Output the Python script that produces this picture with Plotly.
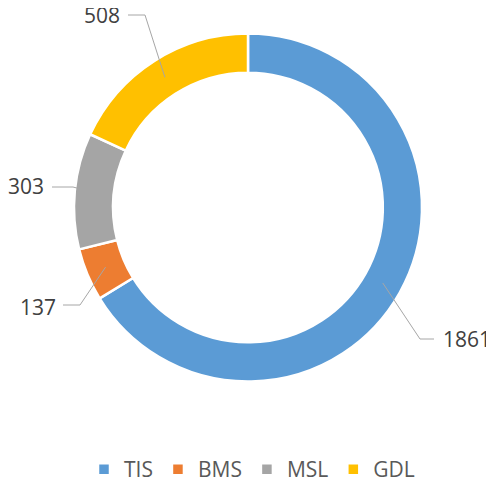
import math
import plotly.graph_objects as go

categories = ["TIS", "BMS", "MSL", "GDL"]
values = [1861, 137, 303, 508]
colors = ["#5B9BD5", "#ED7D31", "#A5A5A5", "#FFC000"]

# page has an 8px body margin; figure sized so it fits the 494x478 window
OFF = 8
W, H = 494 - OFF, 478 - OFF
CX, CY, R_OUT = 248, 207.5, 174
HOLE = 0.775
R_MID = R_OUT * (1 + HOLE) / 2

# label placement in page pixels: elbow point, line end, text anchor x, side, text y
label_layout = {
    "TIS": dict(elbow=(420, 339), end=(434, 339), tx=441, side="left", ty=339),
    "BMS": dict(elbow=(80, 305), end=(63, 305), tx=58, side="right", ty=307),
    "MSL": dict(elbow=(73, 187), end=(52, 187), tx=46, side="right", ty=186),
    "GDL": dict(elbow=(145, 15), end=(128, 15), tx=122, side="right", ty=15),
}

def px(x):
    return (x - OFF) / W

def py(y):
    return 1 - (y - OFF) / H

fig = go.Figure(go.Pie(
    labels=categories,
    values=values,
    sort=False,
    direction="clockwise",
    rotation=0,
    hole=HOLE,
    marker=dict(colors=colors, line=dict(color="white", width=2.5)),
    textinfo="none",
    hoverinfo="label+value",
    domain=dict(x=[px(CX - R_OUT), px(CX + R_OUT)], y=[py(CY + R_OUT), py(CY - R_OUT)]),
))

total = sum(values)
cum = 0
shapes, annotations = [], []
for cat, v in zip(categories, values):
    mid = (cum + v / 2) / total * 2 * math.pi
    cum += v
    sx = CX + R_MID * math.sin(mid)
    sy = CY - R_MID * math.cos(mid)
    L = label_layout[cat]
    ex, ey = L["elbow"]
    fx, fy = L["end"]
    path = f"M {px(sx)},{py(sy)} L {px(ex)},{py(ey)} L {px(fx)},{py(fy)}"
    shapes.append(dict(type="path", path=path, xref="paper", yref="paper",
                       line=dict(color="#A6A6A6", width=1), layer="above"))
    annotations.append(dict(x=px(L["tx"]), y=py(L["ty"]), xref="paper", yref="paper",
                            text=str(v), showarrow=False,
                            xanchor=L["side"], yanchor="middle",
                            font=dict(size=21, color="#404040", family="Open Sans")))

fig.update_layout(
    width=W, height=H,
    margin=dict(l=0, r=0, t=0, b=0, autoexpand=False),
    paper_bgcolor="white",
    plot_bgcolor="white",
    shapes=shapes,
    annotations=annotations,
    showlegend=True,
    legend=dict(orientation="h", x=px(252), xanchor="center", y=py(469.5), yanchor="middle",
                font=dict(size=21, color="#595959", family="Open Sans"),
                itemclick=False, traceorder="normal"),
)

fig.write_html("out.html")
